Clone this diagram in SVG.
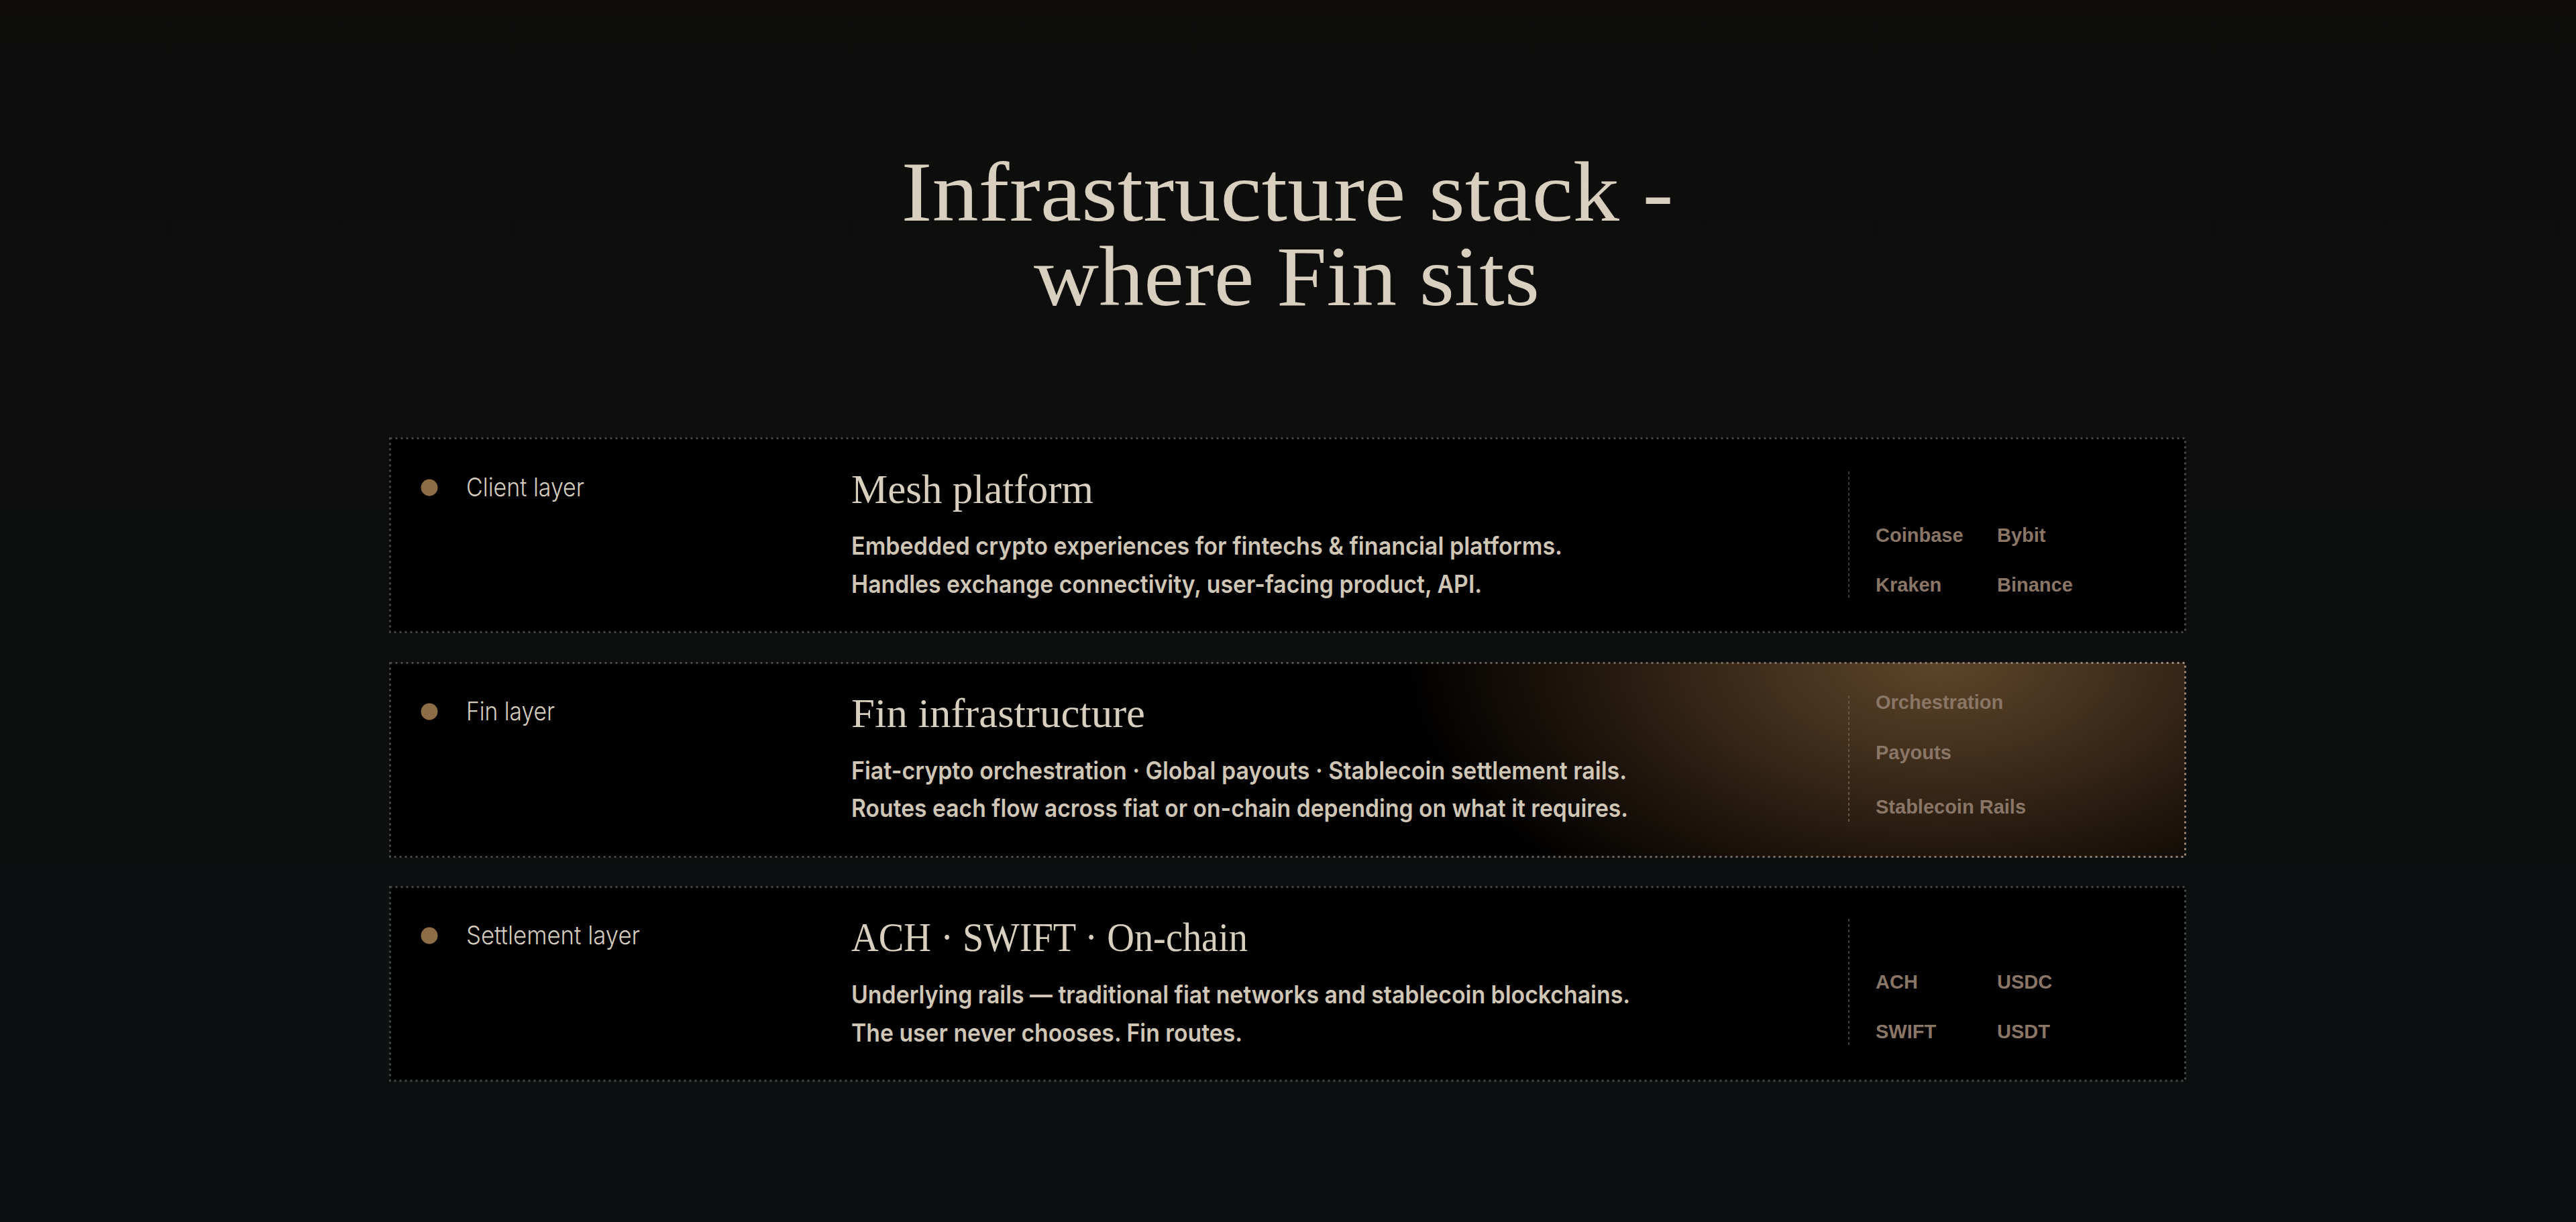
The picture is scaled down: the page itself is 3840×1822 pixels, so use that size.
<svg xmlns="http://www.w3.org/2000/svg" width="3840" height="1822" viewBox="0 0 3840 1822">
  <defs>
    <linearGradient id="bg" x1="0" y1="0" x2="0" y2="1">
      <stop offset="0" stop-color="#0e0d0c"/>
      <stop offset="1" stop-color="#0c1011"/>
    </linearGradient>
    <radialGradient id="glow" gradientUnits="userSpaceOnUse" cx="2890" cy="985" r="800" gradientTransform="translate(2890 985) scale(1 0.55) translate(-2890 -985)">
      <stop offset="0" stop-color="#5d4529"/>
      <stop offset="0.3" stop-color="#44311e"/>
      <stop offset="0.65" stop-color="#22170d"/>
      <stop offset="1" stop-color="#000000"/>
    </radialGradient>
    <linearGradient id="finStroke" gradientUnits="userSpaceOnUse" x1="581" y1="0" x2="3257" y2="0">
      <stop offset="0" stop-color="#4a4a4a"/>
      <stop offset="0.45" stop-color="#4f4b47"/>
      <stop offset="1" stop-color="#9c8676"/>
    </linearGradient>
    <clipPath id="finClip">
      <rect x="581" y="988" width="2676" height="290"/>
    </clipPath>
  </defs>
  <style>
    .box { fill: #000000; stroke: #474747; stroke-width: 3; stroke-dasharray: 3 5; }
    .divider { stroke: #3c3c3c; stroke-width: 2; stroke-dasharray: 4 4; }
    .dot { fill: #8d6d45; }
    .title { font-family: "Liberation Serif", serif; font-size: 128px; fill: #d8cfbf; text-anchor: middle; }
    .label { font-family: "Inter", "Liberation Sans", sans-serif; font-weight: 300; font-size: 38px; fill: #d4ccbe; }
    .head { font-family: "Liberation Serif", serif; font-size: 61px; fill: #d8cfbf; }
    .desc { font-family: "Inter", "Liberation Sans", sans-serif; font-weight: 600; font-size: 37px; fill: #cfc6b6; }
    .tag { font-family: "Liberation Sans", sans-serif; font-weight: 700; font-size: 29px; fill: #8a7666; }
  </style>

  <rect x="0" y="0" width="3840" height="1822" fill="url(#bg)"/>

  <g id="title">
    <text class="title" x="1919" y="329" textLength="1151" lengthAdjust="spacingAndGlyphs">Infrastructure stack -</text>
    <text class="title" x="1918" y="455" textLength="754" lengthAdjust="spacingAndGlyphs">where Fin sits</text>
  </g>

  <g id="node-client">
    <rect class="box" x="581.5" y="653.5" width="2676" height="289"/>
    <circle class="dot" cx="640" cy="727" r="12.5"/>
    <text class="label" x="695" y="740" textLength="176" lengthAdjust="spacingAndGlyphs">Client layer</text>
    <text class="head" x="1269" y="750" textLength="361" lengthAdjust="spacingAndGlyphs">Mesh platform</text>
    <text class="desc" x="1269" y="827" textLength="1060" lengthAdjust="spacingAndGlyphs">Embedded crypto experiences for fintechs &amp; financial platforms.</text>
    <text class="desc" x="1269" y="884" textLength="940" lengthAdjust="spacingAndGlyphs">Handles exchange connectivity, user-facing product, API.</text>
    <line class="divider" x1="2756" y1="703" x2="2756" y2="893"/>
    <text class="tag" x="2796" y="808">Coinbase</text>
    <text class="tag" x="2977" y="808">Bybit</text>
    <text class="tag" x="2796" y="882">Kraken</text>
    <text class="tag" x="2977" y="882">Binance</text>
  </g>

  <g id="node-fin">
    <rect x="581" y="988" width="2676" height="290" fill="#000000"/>
    <rect x="581" y="988" width="2676" height="290" fill="url(#glow)" clip-path="url(#finClip)"/>
    <rect x="581.5" y="988.5" width="2676" height="289" fill="none" stroke="url(#finStroke)" stroke-width="3" stroke-dasharray="3 5"/>
    <circle class="dot" cx="640" cy="1061" r="12.5"/>
    <text class="label" x="695" y="1074" textLength="132" lengthAdjust="spacingAndGlyphs">Fin layer</text>
    <text class="head" x="1269" y="1084" textLength="438" lengthAdjust="spacingAndGlyphs">Fin infrastructure</text>
    <text class="desc" x="1269" y="1162" textLength="1156" lengthAdjust="spacingAndGlyphs">Fiat-crypto orchestration · Global payouts · Stablecoin settlement rails.</text>
    <text class="desc" x="1269" y="1218" textLength="1158" lengthAdjust="spacingAndGlyphs">Routes each flow across fiat or on-chain depending on what it requires.</text>
    <line x1="2756" y1="1037" x2="2756" y2="1226" stroke="#6a5646" stroke-width="2" stroke-dasharray="4 4"/>
    <text class="tag" x="2796" y="1057">Orchestration</text>
    <text class="tag" x="2796" y="1132">Payouts</text>
    <text class="tag" x="2796" y="1213">Stablecoin Rails</text>
  </g>

  <g id="node-settlement">
    <rect class="box" x="581.5" y="1322.5" width="2676" height="289"/>
    <circle class="dot" cx="640" cy="1395" r="12.5"/>
    <text class="label" x="695" y="1408" textLength="259" lengthAdjust="spacingAndGlyphs">Settlement layer</text>
    <text class="head" x="1269" y="1418" textLength="591" lengthAdjust="spacingAndGlyphs">ACH · SWIFT · On-chain</text>
    <text class="desc" x="1269" y="1496" textLength="1161" lengthAdjust="spacingAndGlyphs">Underlying rails — traditional fiat networks and stablecoin blockchains.</text>
    <text class="desc" x="1269" y="1553" textLength="583" lengthAdjust="spacingAndGlyphs">The user never chooses. Fin routes.</text>
    <line class="divider" x1="2756" y1="1370" x2="2756" y2="1560"/>
    <text class="tag" x="2796" y="1474">ACH</text>
    <text class="tag" x="2977" y="1474">USDC</text>
    <text class="tag" x="2796" y="1548">SWIFT</text>
    <text class="tag" x="2977" y="1548">USDT</text>
  </g>
</svg>
